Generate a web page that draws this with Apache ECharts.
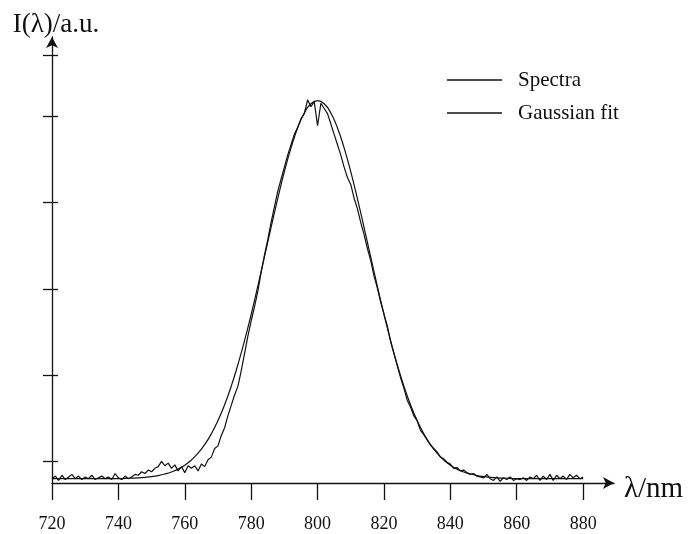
<!DOCTYPE html>
<html>
<head>
<meta charset="utf-8">
<script src="https://cdn.jsdelivr.net/npm/echarts@6/dist/echarts.min.js"></script>
<style>
  html, body { margin: 0; padding: 0; background: #fff; }
  #chart { width: 692px; height: 534px; }
</style>
</head>
<body>
<div id="chart"></div>
<script>
// measured spectrum, 1 nm per sample starting at 720 nm
const specStart = 720
const specStep = 1
const spectra = [
  0.05, 0.08, 0.03, 0.09, 0.04, 0.07, 0.10, 0.05, 0.08, 0.04, // 720-729
  0.07, 0.05, 0.09, 0.04, 0.06, 0.08, 0.05, 0.07, 0.04, 0.11, // 730-739
  0.06, 0.04, 0.08, 0.05, 0.07, 0.10, 0.09, 0.13, 0.11, 0.15, // 740-749
  0.13, 0.17, 0.19, 0.25, 0.20, 0.23, 0.17, 0.21, 0.14, 0.19, // 750-759
  0.12, 0.20, 0.17, 0.20, 0.14, 0.22, 0.19, 0.27, 0.30, 0.40, // 760-769
  0.43, 0.55, 0.64, 0.78, 0.90, 1.02, 1.12, 1.30, 1.50, 1.70, // 770-779
  1.88, 2.04, 2.22, 2.44, 2.64, 2.82, 3.02, 3.20, 3.38, 3.52, // 780-789
  3.66, 3.80, 3.92, 4.04, 4.12, 4.22, 4.28, 4.44, 4.36, 4.42, // 790-799
  4.14, 4.40, 4.34, 4.28, 4.16, 4.04, 3.92, 3.80, 3.66, 3.54, // 800-809
  3.46, 3.30, 3.18, 3.02, 2.88, 2.72, 2.58, 2.40, 2.26, 2.10, // 810-819
  1.96, 1.82, 1.64, 1.50, 1.36, 1.22, 1.10, 0.96, 0.88, 0.78, // 820-829
  0.72, 0.61, 0.56, 0.50, 0.44, 0.40, 0.36, 0.30, 0.28, 0.24, // 830-839
  0.22, 0.17, 0.18, 0.14, 0.15, 0.12, 0.10, 0.11, 0.08, 0.07, // 840-849
  0.06, 0.10, 0.05, 0.03, 0.07, 0.02, 0.06, 0.04, 0.07, 0.03, // 850-859
  0.05, 0.04, 0.06, 0.03, 0.07, 0.05, 0.09, 0.03, 0.08, 0.04, // 860-869
  0.10, 0.03, 0.09, 0.05, 0.08, 0.04, 0.10, 0.06, 0.09, 0.05, // 870-879
  0.07                                                        // 880
]

// gaussian fit curve, read every 2 nm
const fitStart = 720
const fitStep = 2
const gaussFit = [
  0.05, 0.05, 0.05, 0.05, 0.05, 0.05, 0.05, 0.05, 0.05, 0.05, // 720-738
  0.05, 0.054, 0.056, 0.06, 0.066, 0.074, 0.086, 0.104, 0.128, 0.161, // 740-758
  0.207, 0.267, 0.345, 0.445, 0.57, 0.723, 0.907, 1.123, 1.371, 1.65, // 760-778
  1.955, 2.282, 2.621, 2.963, 3.296, 3.607, 3.884, 4.114, 4.287, 4.394, // 780-798
  4.43, // 800
  4.394, 4.287, 4.114, 3.884, 3.607, 3.296, 2.963, 2.621, 2.282, 1.955, // 802-820
  1.65, 1.371, 1.123, 0.907, 0.723, 0.57, 0.445, 0.345, 0.267, 0.207, // 822-840
  0.161, 0.128, 0.104, 0.086, 0.074, 0.066, 0.06, 0.056, 0.054, 0.05, // 842-860
  0.05, 0.05, 0.05, 0.05, 0.05, 0.05, 0.05, 0.05, 0.05, 0.05  // 862-880
]

const xTicks = [720, 740, 760, 780, 800, 820, 840, 860, 880]
const yTicks = [0.25, 1.25, 2.25, 3.25, 4.25, 4.96]

const FONT = '"Liberation Serif", "DejaVu Serif", serif'
const INK = '#111'

const chart = echarts.init(document.getElementById('chart'), null, { renderer: 'canvas' })

const specData = spectra.map((v, i) => [specStart + i * specStep, v])
const fitData = gaussFit.map((v, i) => [fitStart + i * fitStep, v])

chart.setOption({
  animation: false,
  backgroundColor: '#fff',
  grid: { left: 52, top: 37, width: 562, height: 446 },
  legend: {
    orient: 'vertical',
    left: 442,
    top: 64,
    icon: 'rect',
    itemWidth: 55,
    itemHeight: 1.3,
    itemGap: 11,
    itemStyle: { color: INK },
    textStyle: { fontFamily: FONT, fontSize: 21, color: INK, lineHeight: 22, padding: [0, 0, 0, 11] },
    data: ['Spectra', 'Gaussian fit'],
  },
  xAxis: {
    type: 'value',
    min: 720,
    max: 889.3,
    name: 'λ/nm',
    nameLocation: 'end',
    nameGap: 10,
    nameTextStyle: { fontFamily: FONT, fontSize: 29, color: INK, verticalAlign: 'top', lineHeight: 12 },
    splitLine: { show: false },
    axisLine: { lineStyle: { color: INK, width: 1.3 }, symbol: ['none', 'arrow'], symbolSize: [9, 11] },
    axisTick: { customValues: xTicks, length: 17, lineStyle: { color: INK, width: 1.3 } },
    axisLabel: { customValues: xTicks, margin: 32, fontFamily: FONT, fontSize: 18, color: INK },
  },
  yAxis: [
    {
      type: 'value',
      position: 'left',
      min: 0,
      max: 5.168,
      name: 'I(λ)/a.u.',
      nameLocation: 'end',
      nameGap: -1,
      nameTextStyle: { fontFamily: FONT, fontSize: 27, color: INK, padding: [0, 0, 0, 8] },
      splitLine: { show: false },
      axisLine: { lineStyle: { color: INK, width: 1.3 }, symbol: ['none', 'arrow'], symbolSize: [9, 11] },
      axisTick: { customValues: yTicks, length: 9, lineStyle: { color: INK, width: 1.3 } },
      axisLabel: { show: false },
    },
    {
      type: 'value',
      position: 'left',
      min: 0,
      max: 5.168,
      splitLine: { show: false },
      axisLine: { show: false },
      axisTick: { customValues: yTicks, inside: true, length: 6, lineStyle: { color: INK, width: 1.3 } },
      axisLabel: { show: false },
    },
  ],
  series: [
    {
      name: 'Spectra',
      type: 'line',
      data: specData,
      showSymbol: false,
      symbol: 'none',
      lineStyle: { color: INK, width: 1.2 },
      itemStyle: { color: INK },
      z: 3,
    },
    {
      name: 'Gaussian fit',
      type: 'line',
      data: fitData,
      smooth: true,
      showSymbol: false,
      symbol: 'none',
      lineStyle: { color: INK, width: 1.2 },
      itemStyle: { color: INK },
      z: 2,
    },
  ],
})
</script>
</body>
</html>
